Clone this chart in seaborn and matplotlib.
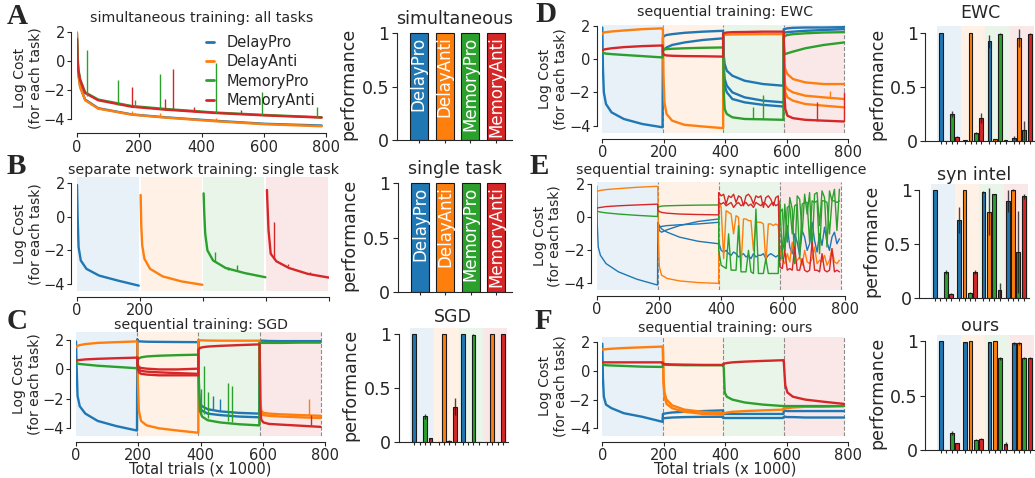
"""Sequential vs simultaneous training: log cost curves and final performance."""

import matplotlib

matplotlib.use("Agg")
import matplotlib.pyplot as plt
from matplotlib.lines import Line2D
import numpy as np
import pandas as pd
import seaborn as sns

sns.set_style("ticks")
plt.rcParams["font.family"] = ["DejaVu Sans"]

TASKS = ["DelayPro", "DelayAnti", "MemoryPro", "MemoryAnti"]
COLORS = sns.color_palette("tab10", 4)
PALETTE = dict(zip(TASKS, COLORS))

# training stages (x 1000 trials)
STAGE_START = [0, 197, 393, 590]
STAGE_END = 787
OFFS = [0, 2, 5, 12, 30, 70, 130, 196]
NOISE_OFFS = [0, 8, 16, 24, 32, 40, 48, 56, 64, 72, 80, 88, 96, 104, 112,
              120, 128, 136, 144, 152, 160, 168, 176, 184, 192]

# ---- A: simultaneous training ----
A_X = [0, 2, 4, 10, 26, 68, 176, 283, 443, 604, 786]
A_COST = {
    "DelayPro": [1.9, 0.2, -0.8, -1.75, -2.65, -3.25, -3.68, -3.88, -4.12, -4.33, -4.45],
    "DelayAnti": [2.0, 0.1, -0.85, -1.8, -2.7, -3.28, -3.7, -3.9, -4.15, -4.36, -4.5],
    "MemoryPro": [1.5, 0.5, -0.5, -1.25, -2.15, -2.65, -3.1, -3.3, -3.55, -3.72, -3.88],
    "MemoryAnti": [1.57, 0.07, -0.6, -1.3, -2.2, -2.7, -3.15, -3.35, -3.58, -3.75, -3.9],
}
# (x, base, top, task index)
A_SPIKES = [(31, -2.4, 0.75, 2), (133, -3.0, -1.3, 2), (176, -3.15, -1.8, 3),
            (186, -3.2, -2.7, 2), (267, -3.3, -0.9, 2), (283, -3.35, -2.6, 3),
            (307, -3.4, -0.55, 3), (377, -3.5, -3.2, 3), (445, -3.58, -0.1, 2),
            (526, -3.68, -3.35, 3), (593, -3.75, -2.1, 2), (772, -3.9, -3.2, 2),
            (176, -3.7, -3.45, 1), (267, -3.85, -3.6, 1), (445, -4.15, -3.9, 1)]

# ---- B: separate networks ----
B_START = [0, 202, 402, 603]
B_SPANS = [(0, 197), (202, 397), (401, 595), (601, 797)]
B_COST = {
    "DelayPro": [1.9, 0.0, -1.8, -2.6, -3.1, -3.5, -3.8, -4.1],
    "DelayAnti": [1.3, -0.5, -1.7, -2.5, -3.1, -3.55, -3.85, -4.05],
    "MemoryPro": [1.4, 0.2, -1.0, -2.0, -2.6, -3.05, -3.35, -3.6],
    "MemoryAnti": [1.6, 0.6, -0.8, -2.2, -2.65, -3.05, -3.4, -3.62],
}
B_SPIKES = [(438, -2.7, -2.1, 2), (478, -3.15, -3.0, 2), (508, -3.25, -2.85, 2),
            (625, -2.5, -0.3, 3), (670, -2.95, -2.8, 3), (740, -3.4, -3.3, 3)]

# ---- C: SGD ----
C_COST = {
    "DelayPro": [[1.9, 0.2, -1.8, -2.5, -3.0, -3.5, -3.85, -4.15],
                 [2.05, 1.95, 1.9, 1.9, 1.88, 1.87, 1.86, 1.85],
                 [1.9, -1.5, -2.3, -2.5, -2.7, -2.85, -2.95, -3.0],
                 [1.9, 1.95, 1.95, 1.95, 1.93, 1.92, 1.92, 1.92]],
    "DelayAnti": [[1.5, 1.55, 1.6, 1.65, 1.72, 1.8, 1.85, 1.9],
                  [1.9, -1.0, -2.8, -3.5, -3.8, -4.0, -4.15, -4.3],
                  [2.0, 2.0, 1.98, 1.97, 1.96, 1.95, 1.95, 1.95],
                  [1.9, -2.0, -2.8, -2.95, -3.0, -3.05, -3.1, -3.15]],
    "MemoryPro": [[0.45, 0.42, 0.4, 0.37, 0.33, 0.25, 0.17, 0.08],
                  [0.5, 0.65, 0.75, 0.82, 0.88, 0.93, 0.97, 1.0],
                  [1.0, -1.0, -2.8, -3.2, -3.45, -3.6, -3.72, -3.8],
                  [1.8, 1.8, 1.8, 1.8, 1.8, 1.8, 1.82, 1.82]],
    "MemoryAnti": [[0.6, 0.6, 0.62, 0.64, 0.68, 0.72, 0.76, 0.8],
                   [0.8, 0.2, 0.0, -0.1, -0.15, -0.2, -0.25, -0.3],
                   [1.3, 1.4, 1.45, 1.5, 1.55, 1.6, 1.65, 1.7],
                   [1.7, -2.5, -3.4, -3.6, -3.7, -3.75, -3.82, -3.9]],
}
C_EXTRA = [("DelayPro", 2, [1.9, -1.8, -2.6, -2.8, -3.0, -3.1, -3.2, -3.25]),
           ("MemoryAnti", 1, [0.8, 0.3, 0.15, 0.1, 0.05, 0.0, 0.0, 0.05]),
           ("MemoryAnti", 1, [0.8, 0.0, -0.2, -0.3, -0.35, -0.4, -0.4, -0.4]),
           ("DelayAnti", 3, [1.9, -2.2, -3.0, -3.1, -3.15, -3.2, -3.25, -3.3])]
C_SPIKES = [(403, -3.0, -1.3, 2), (411, -3.0, 0.2, 2), (425, -3.3, -1.5, 2),
            (440, -2.7, -1.8, 0), (462, -2.8, -2.0, 0), (489, -3.5, -0.95, 2),
            (500, -3.55, -1.1, 2), (750, -3.1, -2.0, 1), (755, -3.8, -3.1, 3)]

# ---- D: EWC ----
D_COST = {
    "DelayPro": [[1.9, -0.5, -2.0, -2.7, -3.2, -3.6, -3.9, -4.1],
                 [1.3, 1.35, 1.4, 1.45, 1.5, 1.58, 1.65, 1.7],
                 [1.5, 0.2, -0.3, -0.7, -1.0, -1.3, -1.5, -1.6],
                 [1.8, 1.8, 1.82, 1.85, 1.88, 1.9, 1.9, 1.92]],
    "DelayAnti": [[1.5, 1.55, 1.6, 1.62, 1.66, 1.72, 1.8, 1.85],
                  [1.8, -1.0, -2.6, -3.3, -3.7, -3.95, -4.05, -4.15],
                  [1.45, 1.45, 1.46, 1.47, 1.48, 1.49, 1.5, 1.5],
                  [1.5, -0.3, -0.6, -0.9, -1.2, -1.4, -1.5, -1.5]],
    "MemoryPro": [[0.4, 0.38, 0.36, 0.33, 0.3, 0.25, 0.18, 0.1],
                  [0.5, 0.55, 0.58, 0.6, 0.62, 0.65, 0.68, 0.7],
                  [0.7, -2.0, -3.0, -3.3, -3.5, -3.6, -3.62, -3.65],
                  [1.3, 1.35, 1.4, 1.45, 1.5, 1.55, 1.6, 1.62]],
    "MemoryAnti": [[0.55, 0.55, 0.57, 0.6, 0.65, 0.72, 0.78, 0.82],
                   [0.4, 0.3, 0.25, 0.22, 0.2, 0.18, 0.17, 0.15],
                   [1.5, 1.55, 1.57, 1.6, 1.62, 1.63, 1.65, 1.65],
                   [1.6, -2.0, -3.0, -3.4, -3.55, -3.65, -3.7, -3.75]],
}
D_EXTRA = [("DelayPro", 1, [0.5, 0.55, 0.6, 0.7, 0.85, 1.0, 1.15, 1.25]),
           ("DelayPro", 2, [1.5, -0.5, -1.2, -1.6, -2.0, -2.3, -2.5, -2.6]),
           ("DelayPro", 2, [1.5, -1.0, -1.6, -2.0, -2.4, -2.6, -2.75, -2.85]),
           ("DelayPro", 3, [1.6, 1.6, 1.6, 1.62, 1.65, 1.7, 1.75, 1.8]),
           ("DelayAnti", 3, [1.5, -1.0, -1.6, -1.8, -2.0, -2.2, -2.3, -2.4]),
           ("DelayAnti", 3, [1.5, -1.5, -2.0, -2.3, -2.5, -2.7, -2.8, -2.9]),
           ("MemoryPro", 3, [0.8, 0.4, 0.3, 0.35, 0.45, 0.65, 0.85, 1.0])]
D_SPIKES = [(491, -3.6, -2.85, 2), (523, -3.6, -2.15, 2), (697, -3.7, -2.55, 3),
            (740, -2.3, -1.9, 1), (785, -3.75, -1.95, 3)]

# ---- E: synaptic intelligence ----
E_COST = {
    "DelayPro": [[1.9, -0.5, -1.8, -2.3, -2.8, -3.3, -3.75, -4.1],
                 [-0.3, -0.4, -0.5, -0.7, -0.9, -1.2, -1.45, -1.6],
                 [-1.5, -2.0, -2.1, -2.0, -2.2, -2.3, -2.1, -2.2, -2.4, -2.3, -2.2, -2.4, -2.3,
                  -2.5, -2.2, -2.4, -2.3, -2.3, -2.2, -2.5, -2.3, -2.2, -2.3, -2.4, -2.3],
                 [-2.5, -1.5, -2.0, -0.5, -1.8, -2.2, -1.0, -1.5, -2.3, -0.8, -1.2, -2.0, -1.6,
                  -0.3, -1.4, -2.1, -1.0, -1.7, -0.6, -1.5, -2.0, -1.2, -0.9, -1.6, -1.3]],
    "DelayAnti": [[1.55, 1.58, 1.6, 1.63, 1.68, 1.74, 1.82, 1.88],
                  [1.8, -1.5, -3.0, -3.5, -3.7, -3.85, -3.95, -4.0],
                  [1.0, 0.6, -2.5, 0.4, 0.3, 0.2, -1.0, 0.1, 0.0, -3.0, -0.1, -0.1, -0.2,
                   -0.2, -2.0, -0.3, -0.3, -0.3, -0.4, -2.8, -0.4, -0.4, -0.5, -0.4, -0.5],
                  [-2.0, -2.6, -2.8, -2.2, -2.7, -1.5, -2.8, -2.6, -2.4, -2.9, -2.0, -2.7, -2.8,
                   -2.5, -1.8, -2.8, -2.6, -2.7, -2.3, -2.9, -2.6, -1.9, -2.7, -2.8, -2.6]],
    "MemoryPro": [[0.4, 0.38, 0.35, 0.32, 0.27, 0.2, 0.12, 0.05],
                  [0.6, 0.62, 0.65, 0.68, 0.7, 0.72, 0.74, 0.75],
                  [-2.0, -2.9, -3.0, -3.1, -1.0, -3.2, -3.2, -3.2, -0.5, -3.3, -3.3, -3.3, -2.0,
                   -3.3, -3.4, 0.5, -3.4, -3.4, -3.4, -2.5, -3.4, -3.4, -3.4, -3.4, -3.4],
                  [1.0, -2.5, 0.8, -1.5, 1.2, 0.5, -2.8, 1.3, 1.1, -1.0, 1.4, 0.2, 1.5,
                   -2.0, 1.4, 1.5, -0.5, 1.6, 1.2, -1.8, 1.6, 1.0, 1.7, -0.8, 1.7]],
    "MemoryAnti": [[0.55, 0.56, 0.58, 0.6, 0.65, 0.7, 0.75, 0.8],
                   [0.45, 0.4, 0.35, 0.3, 0.25, 0.2, 0.17, 0.15],
                   [1.5, 1.3, 1.4, 0.8, 1.3, 1.2, 1.4, 0.9, 1.3, 1.2, 0.7, 1.3, 1.4,
                    1.2, 0.8, 1.3, 1.2, 1.3, 0.6, 1.2, 1.3, 1.1, 0.7, 1.2, 1.3],
                   [-3.0, -3.1, -2.0, -3.2, -3.1, -3.2, -1.8, -3.2, -3.2, -2.5, -3.2, -3.3, -3.2,
                    -1.5, -3.2, -3.2, -3.3, -2.2, -3.2, -3.3, -3.2, -1.9, -3.3, -3.2, -3.3]],
}
E_EXTRA = [("DelayPro", 1, [-0.5, -0.6, -0.6, -0.55, -0.5, -0.45, -0.4, -0.3]),
           ("DelayPro", 1, [-0.4, -0.5, -0.8, -0.9, -0.75, -0.5, -0.25, -0.1]),
           ("MemoryAnti", 2, [0.9, 0.8, 0.9, 0.7, 0.8, 0.9, 0.6, 0.8, 0.9, 0.7, 0.8, 0.9, 0.7,
                              0.8, 0.6, 0.9, 0.8, 0.7, 0.9, 0.8, 0.6, 0.8, 0.9, 0.7, 0.8]),
           ("MemoryPro", 3, [0.3, 0.5, -2.0, 0.6, 0.7, -1.0, 0.7, 0.8, -2.5, 0.8, 0.9, 0.9, -1.5,
                             1.0, 0.9, 1.0, -2.2, 1.0, 1.0, 0.9, -1.0, 1.0, 1.0, 0.9, 1.0])]

# ---- F: ours ----
F_COST = {
    "DelayPro": [[1.9, -0.5, -1.8, -2.35, -2.6, -2.95, -3.2, -3.55],
                 [-3.0, -3.0, -2.98, -2.95, -2.9, -2.85, -2.8, -2.75],
                 [-2.95, -3.0, -3.0, -3.0, -3.0, -3.0, -3.0, -3.0],
                 [-2.8, -2.75, -2.78, -2.8, -2.8, -2.8, -2.8, -2.8]],
    "DelayAnti": [[1.5, 1.5, 1.5, 1.52, 1.55, 1.6, 1.65, 1.7],
                  [1.7, -0.5, -1.5, -2.0, -2.4, -2.7, -2.85, -2.95],
                  [-2.95, -2.95, -2.95, -2.9, -2.85, -2.8, -2.75, -2.7],
                  [-2.6, -2.6, -2.6, -2.6, -2.55, -2.5, -2.5, -2.45]],
    "MemoryPro": [[0.5, 0.45, 0.42, 0.4, 0.38, 0.35, 0.3, 0.28],
                  [0.45, 0.45, 0.44, 0.43, 0.42, 0.4, 0.4, 0.4],
                  [0.45, 0.2, -1.5, -1.8, -2.0, -2.2, -2.35, -2.45],
                  [-2.45, -2.45, -2.45, -2.45, -2.45, -2.45, -2.45, -2.45]],
    "MemoryAnti": [[0.6, 0.6, 0.6, 0.6, 0.6, 0.6, 0.6, 0.6],
                   [0.5, 0.5, 0.48, 0.47, 0.45, 0.44, 0.42, 0.42],
                   [0.45, 0.5, 0.52, 0.55, 0.6, 0.65, 0.7, 0.75],
                   [0.75, 0.0, -1.0, -1.5, -1.8, -2.0, -2.15, -2.3]],
}
F_EXTRA = [("DelayPro", 1, [-3.3, -3.3, -3.3, -3.28, -3.25, -3.22, -3.2, -3.2]),
           ("DelayPro", 2, [-3.25, -3.25, -3.25, -3.25, -3.25, -3.25, -3.25, -3.25]),
           ("DelayPro", 3, [-3.2, -3.2, -3.2, -3.22, -3.22, -3.25, -3.25, -3.25]),
           ("DelayAnti", 1, [1.7, -0.8, -1.8, -2.3, -2.6, -2.85, -3.0, -3.05])]

# ---- performance after each stage: rows = stage trained, cols = task tested ----
C_PERF = [[1.0, 0.0, 0.24, 0.037], [0.0, 1.0, 0.012, 0.33],
          [1.0, 0.0, 0.995, 0.0], [0.0, 1.0, 0.0, 1.0]]
C_ERR = [[0, 0, 0.02, 0.005], [0, 0, 0.005, 0.08], [0, 0, 0.005, 0], [0, 0, 0, 0]]
D_PERF = [[1.0, 0.0, 0.245, 0.037], [0.006, 1.0, 0.07, 0.21],
          [0.92, 0.012, 0.99, 0.003], [0.025, 0.95, 0.095, 0.99]]
D_ERR = [[0, 0, 0.03, 0.005], [0.005, 0, 0.01, 0.05],
         [0.06, 0.005, 0.005, 0.003], [0.015, 0.08, 0.09, 0.005]]
E_PERF = [[1.0, 0.0, 0.245, 0.043], [0.72, 1.0, 0.052, 0.24],
          [0.985, 0.80, 0.96, 0.075], [0.90, 1.0, 0.425, 0.94]]
E_ERR = [[0, 0, 0.02, 0.005], [0.12, 0, 0.005, 0.02],
         [0.01, 0.22, 0.005, 0.07], [0.10, 0.005, 0.38, 0.02]]
F_PERF = [[1.0, 0.003, 0.155, 0.06], [0.99, 1.0, 0.095, 0.105],
          [0.99, 1.0, 0.845, 0.055], [0.98, 0.98, 0.845, 0.845]]
F_ERR = [[0, 0, 0.02, 0.005], [0.005, 0, 0.005, 0.005],
         [0.005, 0, 0.015, 0.02], [0.01, 0.015, 0.01, 0.01]]
SINGLE_PERF = [1.0, 1.0, 1.0, 1.0]

W, H = 1035, 478
fig = plt.figure(figsize=(W / 100, H / 100), dpi=100)


def add_axes(left, top, right, bottom):
    return fig.add_axes([left / W, 1 - bottom / H, (right - left) / W, (bottom - top) / H])


def grid(n):
    return OFFS if n == len(OFFS) else NOISE_OFFS


def staged_frame(cost, extra):
    rows = []
    for task, stages in cost.items():
        for k, vals in enumerate(stages):
            for o, v in zip(grid(len(vals)), vals):
                rows.append((STAGE_START[k] + o, v, task, task + "_main"))
    for i, (task, k, vals) in enumerate(extra):
        for o, v in zip(grid(len(vals)), vals):
            rows.append((STAGE_START[k] + o, v, task, f"{task}_x{i}"))
    return pd.DataFrame(rows, columns=["x", "cost", "task", "run"])


def draw_lines(ax, df, lw=1.7):
    sns.lineplot(data=df, x="x", y="cost", hue="task", hue_order=TASKS, units="run",
                 estimator=None, sort=False, palette=PALETTE, lw=lw, legend=False, ax=ax)


def draw_spikes(ax, spikes):
    for x, base, top, t in spikes:
        ax.vlines(x, base, top, color=COLORS[t], lw=1.0)


def style_line(ax, ylim, title, tpad, xlabels=None, xlabel=None):
    ax.set_xlim(0, 800)
    ax.set_ylim(*ylim)
    ax.set_xticks([0, 200, 400, 600, 800])
    if xlabels is not None:
        ax.set_xticklabels(xlabels)
    ax.set_yticks([-4, -2, 0, 2])
    ax.tick_params(labelsize=10.5, length=3, width=0.8, pad=1.5)
    ax.set_xlabel(xlabel if xlabel else "", fontsize=10.5, labelpad=-1)
    ax.set_ylabel("Log Cost\n(for each task)", fontsize=10, labelpad=1, linespacing=1.1)
    ax.set_title(title, fontsize=10.2, pad=tpad)
    sns.despine(ax=ax, offset=4, trim=True)


def shade_stages(ax, dashed=True):
    for k in range(4):
        end = STAGE_START[k + 1] if k < 3 else STAGE_END
        ax.axvspan(STAGE_START[k], end, color=COLORS[k], alpha=0.1, lw=0, zorder=0)
        if dashed:
            ax.axvline(end, color="0.55", ls="--", lw=0.8, zorder=0.5)


def single_bars(ax, title, tpad):
    sns.barplot(x=TASKS, y=SINGLE_PERF, hue=TASKS, palette=PALETTE, legend=False,
                saturation=1, width=0.7, edgecolor="0.1", linewidth=0.8, ax=ax)
    for i, t in enumerate(TASKS):
        ax.text(i, 0.97, t, rotation=90, color="white", fontsize=12,
                ha="center", va="top")
    ax.set_xlim(-0.86, 3.61)
    ax.set_ylim(0, 1.05)
    style_bar(ax, title, tpad)


def seq_bars(ax, perf, err, title, tpad):
    for g in range(4):
        ax.axvspan(g * 4.5 - 0.75, g * 4.5 + 3.75, color=COLORS[g], alpha=0.1, lw=0, zorder=0)
        pos = [g * 4.5 + j for j in range(4)]
        ax.bar(pos, perf[g], width=0.7, color=COLORS, edgecolor="0.1", linewidth=0.8,
               yerr=err[g], error_kw={"ecolor": "0.1", "elinewidth": 1.0, "alpha": 0.8},
               zorder=2)
    ax.set_xticks([g * 4.5 + j for g in range(4) for j in range(4)])
    ax.set_xlim(-2.9, 17.4)
    ax.set_ylim(0, 1.06)
    style_bar(ax, title, tpad)


def style_bar(ax, title, tpad):
    ax.set_xticklabels([])
    ax.set_yticks([0, 0.5, 1])
    ax.set_yticklabels(["0", "0.5", "1"])
    ax.tick_params(axis="y", labelsize=12.5, length=3.5, width=0.8, pad=2)
    ax.tick_params(axis="x", length=2.5, width=0.8)
    ax.set_xlabel("")
    ax.set_ylabel("performance", fontsize=12.5, labelpad=3)
    ax.set_title(title, fontsize=12.5, pad=tpad)
    sns.despine(ax=ax)
    ax.spines["left"].set_bounds(0, 1)


# ---- A ----
axA = add_axes(77, 28, 326, 127.7)
a_rows = [(x, v, t, t) for t in TASKS for x, v in zip(A_X, A_COST[t])]
draw_lines(axA, pd.DataFrame(a_rows, columns=["x", "cost", "task", "run"]))
draw_spikes(axA, A_SPIKES)
style_line(axA, (-4.6, 2.3), "simultaneous training: all tasks", 4)
handles = [Line2D([], [], color=c, lw=2) for c in COLORS]
axA.legend(handles, TASKS, loc="upper right", bbox_to_anchor=(0.99, 1.02), frameon=False,
           fontsize=10.5, handlelength=0.6, handletextpad=0.8, labelspacing=0.3,
           borderaxespad=0.2)

# ---- B ----
axB = add_axes(77, 177, 329, 291)
for k, t in enumerate(TASKS):
    axB.axvspan(*B_SPANS[k], color=COLORS[k], alpha=0.1, lw=0, zorder=0)
b_rows = [(B_START[k] + o, v, t, t) for k, t in enumerate(TASKS)
          for o, v in zip(OFFS, B_COST[t])]
draw_lines(axB, pd.DataFrame(b_rows, columns=["x", "cost", "task", "run"]))
draw_spikes(axB, B_SPIKES)
style_line(axB, (-4.42, 2.375), "separate network training: single task", 1.5,
           xlabels=["0", "200", "", "", ""])

# ---- C ----
axC = add_axes(76, 332, 325, 436)
shade_stages(axC)
draw_lines(axC, staged_frame(C_COST, C_EXTRA))
draw_spikes(axC, C_SPIKES)
style_line(axC, (-4.52, 2.54), "sequential training: SGD", 0.5,
           xlabel="Total trials (x 1000)")

# ---- D ----
axD = add_axes(602.3, 25, 848.3, 133.3)
shade_stages(axD)
draw_lines(axD, staged_frame(D_COST, D_EXTRA))
draw_spikes(axD, D_SPIKES)
style_line(axD, (-4.46, 2.05), "sequential training: EWC", 6.5)

# ---- E ----
axE = add_axes(596.7, 182, 845, 290)
shade_stages(axE)
draw_lines(axE, staged_frame(E_COST, E_EXTRA), lw=1.0)
style_line(axE, (-4.4, 2.14), "sequential training: synaptic intelligence", 6)

# ---- F ----
axF = add_axes(602.3, 336.7, 848.3, 436)
shade_stages(axF)
draw_lines(axF, staged_frame(F_COST, F_EXTRA))
style_line(axF, (-4.54, 2.39), "sequential training: ours", 3.5,
           xlabel="Total trials (x 1000)")

# ---- bar panels ----
single_bars(add_axes(396.7, 28, 511.7, 140), "simultaneous", 2)
single_bars(add_axes(398, 177.9, 511.7, 291.7), "single task", 2)
seq_bars(add_axes(398.7, 327.8, 507.9, 442.3), C_PERF, C_ERR, "SGD", 4)
seq_bars(add_axes(925.4, 26.2, 1034.6, 140.7), D_PERF, D_ERR, "EWC", 6)
seq_bars(add_axes(919.4, 183.5, 1028.6, 298.3), E_PERF, E_ERR, "syn intel", 1.5)
seq_bars(add_axes(925.4, 334.8, 1034.6, 450), F_PERF, F_ERR, "ours", 2)

# panel letters
for letter, (px, py) in {"A": (7, 3), "B": (7, 153), "C": (7, 308),
                         "D": (535, 1), "E": (530, 153), "F": (535, 308)}.items():
    fig.text(px / W, 1 - py / H, letter, fontsize=21, fontweight="bold",
             family=["Liberation Serif", "DejaVu Serif"], ha="left", va="top")

fig.savefig("out.png", dpi=100)
plt.close(fig)
